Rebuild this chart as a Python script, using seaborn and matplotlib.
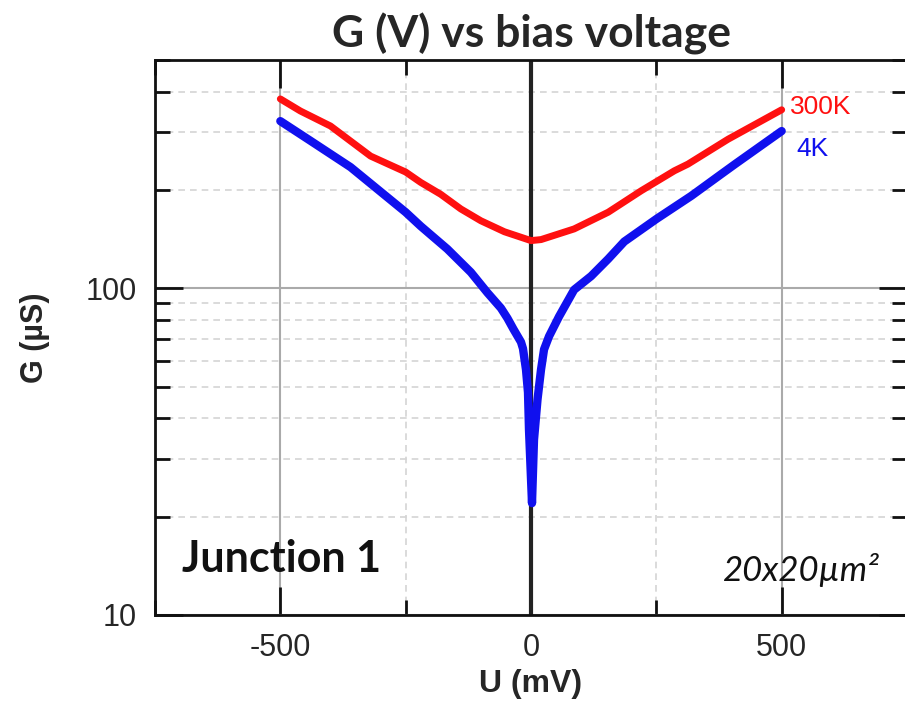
import pandas as pd
import matplotlib
matplotlib.use("Agg")
import matplotlib.pyplot as plt
import matplotlib.ticker as mticker
import seaborn as sns

# 300K curve (red)
u_300k = [-500, -460, -400, -320, -250, -220, -180, -140, -100, -53, 0, 20, 86,
          154, 220, 286, 313, 393, 500]
g_300k = [380, 349, 314, 254, 227, 211, 194, 175, 161, 149, 140, 141, 152,
          171, 199, 229, 240, 286, 352]

# 4K curve (blue)
u_4k = [-500, -440, -360, -250, -220, -167, -120, -87, -60, -47, -35, -20, -16, -10, -6, -4, 2,
        6, 13, 20, 26, 36, 56, 86, 120, 154, 186, 250, 320, 380, 407, 500]
g_4k = [325, 283, 235, 171, 155, 132, 112, 97, 87, 81, 75, 68.5, 65.4, 56.4, 48, 36.9, 22,
        34.4, 45.7, 56.4, 65, 71.3, 82, 99, 109, 123, 139, 163, 192, 224, 240, 303]

series_names = ["300K", "4K"]
series_colors = ["#ff1010", "#1010ee"]

sns.set_theme(style="white", font="Liberation Sans")
plt.rcParams["font.family"] = ["Liberation Sans", "DejaVu Sans"]
plt.rcParams["axes.unicode_minus"] = False

df = pd.concat([
    pd.DataFrame({"U": u_300k, "G": g_300k, "T": series_names[0]}),
    pd.DataFrame({"U": u_4k, "G": g_4k, "T": series_names[1]}),
])

fig = plt.figure(figsize=(9.05, 7.04), dpi=100)
ax = fig.add_axes([155 / 905, 1 - 615 / 704, 752 / 905, 555 / 704])

ax.axvline(0, color="#222222", lw=3, zorder=1.8)
for name, color, lw in zip(series_names, series_colors, [5, 6]):
    sub = df[df["T"] == name]
    sns.lineplot(data=sub, x="U", y="G", color=color, lw=lw, sort=False,
                 estimator=None, ax=ax, zorder=3)

ax.set_yscale("log")
ax.set_xlim(-750, 750)
ax.set_ylim(10, 500)
ax.xaxis.set_major_locator(mticker.MultipleLocator(500))
ax.xaxis.set_minor_locator(mticker.MultipleLocator(250))
ax.yaxis.set_major_locator(mticker.LogLocator(base=10))
ax.yaxis.set_minor_locator(mticker.LogLocator(base=10, subs=range(2, 10)))
ax.yaxis.set_major_formatter(mticker.FuncFormatter(lambda v, _: f"{v:g}"))
ax.yaxis.set_minor_formatter(mticker.NullFormatter())

ax.grid(which="major", color="#aaaaaa", lw=1.5, ls="-")
ax.grid(which="minor", color="#d4d4d4", lw=1.2, ls=(0, (4, 3)))
ax.set_axisbelow(True)

ax.tick_params(which="both", direction="in", top=True, right=True,
               left=True, bottom=True, color="#111111", width=2)
ax.tick_params(which="major", length=20, labelsize=22, pad=13)
ax.tick_params(which="minor", length=11)
for sp in ax.spines.values():
    sp.set_color("#111111")
    sp.set_linewidth(2)

ax.set_xlabel("U (mV)", fontsize=23, fontweight="bold", labelpad=4)
ax.set_ylabel("G (µS)", fontsize=22, fontweight="bold", labelpad=26)
ax.set_title("G (V) vs bias voltage", fontsize=32, fontweight="bold",
             family="Lato", pad=9)

ax.text(516, 359, "300K", color=series_colors[0], fontsize=19, va="center", ha="left")
ax.text(530, 267, "4K", color=series_colors[1], fontsize=19, va="center", ha="left")
ax.text(-696, 14.8, "Junction 1", fontsize=31, fontweight="bold", family="Lato",
        va="center", ha="left", color="#111111")
ax.text(696, 13.7, "20x20µm²", fontsize=25, style="italic", family="Lato",
        va="center", ha="right", color="#111111")

fig.savefig("out.png", dpi=100)
